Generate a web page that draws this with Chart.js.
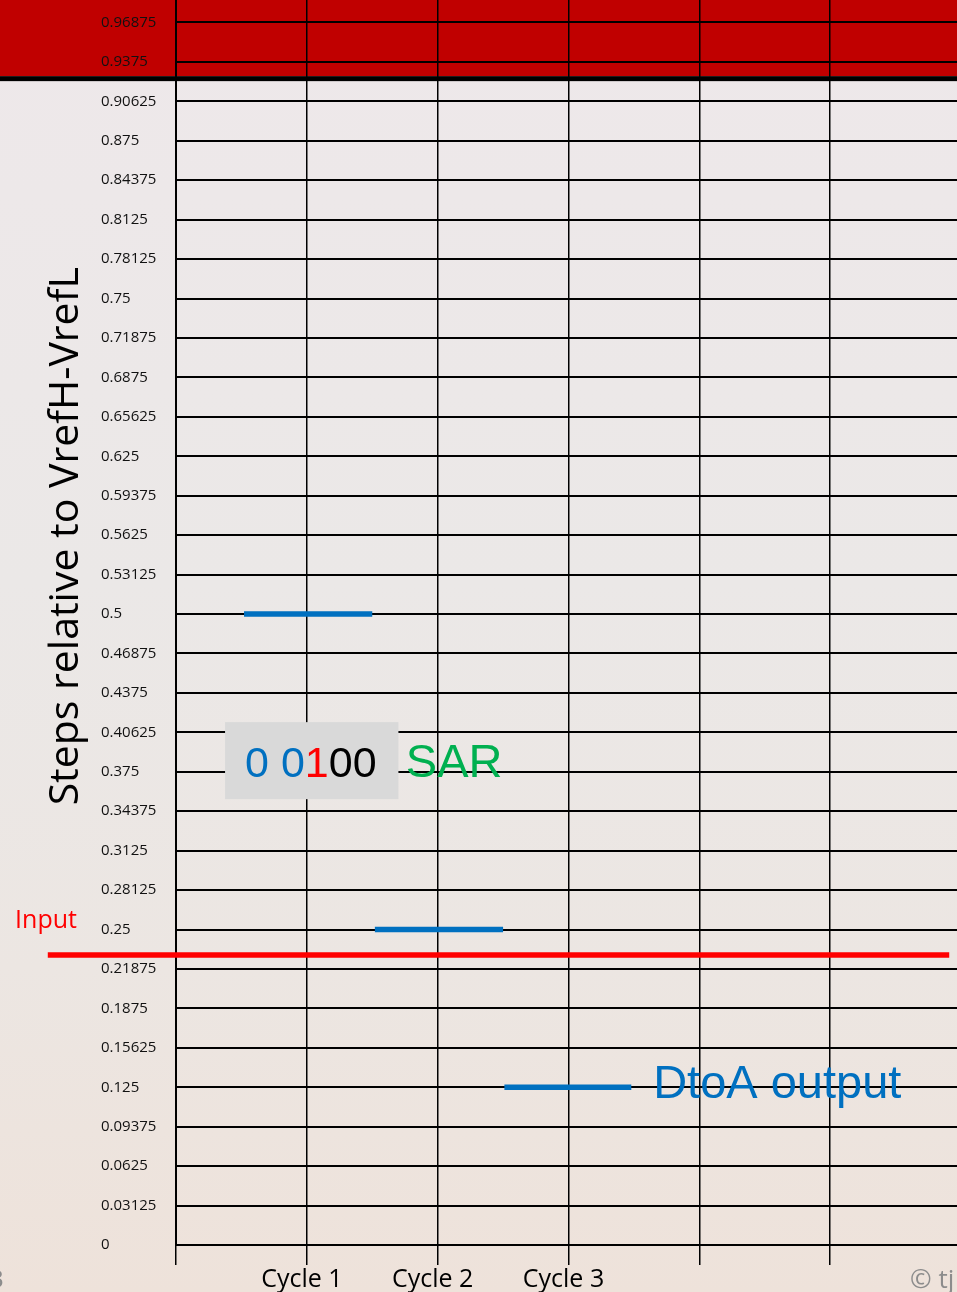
<!DOCTYPE html>
<html>
<head>
<meta charset="utf-8">
<title>SAR DtoA steps</title>
<script src="https://cdn.jsdelivr.net/npm/chart.js@4.4.1/dist/chart.umd.min.js"></script>
<style>
  html, body { margin: 0; padding: 0; width: 957px; height: 1292px; overflow: hidden; }
  body {
    position: relative;
    background: linear-gradient(180deg, #eee8ea 0%, #ebe8e7 45%, #ece6e2 75%, #eee2da 100%);
  }
  #chart { position: absolute; left: 0; top: -29px; }
</style>
</head>
<body>
<canvas id="chart" width="961" height="1321"></canvas>
<script>
// y ticks: steps of 1/32 of VrefH-VrefL
const yTickValues = [0, 0.03125, 0.0625, 0.09375, 0.125, 0.15625, 0.1875, 0.21875,
    0.25, 0.28125, 0.3125, 0.34375, 0.375, 0.40625, 0.4375, 0.46875,
    0.5, 0.53125, 0.5625, 0.59375, 0.625, 0.65625, 0.6875, 0.71875,
    0.75, 0.78125, 0.8125, 0.84375, 0.875, 0.90625, 0.9375, 0.96875];
const xTickValues = [0, 1, 2, 3, 4, 5, 6];
const xTickLabels = ["", "Cycle 1", "Cycle 2", "Cycle 3", "", "", ""];

// DtoA output per cycle
const dacLevels = [0.5, 0.25, 0.125];
const dacStarts = [0.52, 1.52, 2.51];
const dacEnds = [1.5, 2.5, 3.48];

// analog input
const inputLevel = 0.2297;
const inputSpan = [-0.98, 5.91];

const sarCode = [["0 0", "#0070C0"], ["1", "#FF0000"], ["00", "#000000"]];

const dacData = [];
dacLevels.forEach((lvl, i) => {
    dacData.push({ x: dacStarts[i], y: lvl }, { x: dacEnds[i], y: lvl }, { x: dacEnds[i], y: null });
});
const inputData = inputSpan.map(x => ({ x, y: inputLevel }));

const slideDecor = {
    id: "slideDecor",
    beforeDraw(chart) {
        const ctx = chart.ctx;
        const edge = chart.scales.y.getPixelForValue(0.9262);
        ctx.save();
        ctx.fillStyle = "#C00000";
        ctx.fillRect(0, 0, chart.width, edge);
        ctx.fillStyle = "#000";
        ctx.fillRect(0, edge, chart.width, 5);
        ctx.restore();
    },
    afterDatasetsDraw(chart) {
        const ctx = chart.ctx;
        const sx = v => chart.scales.x.getPixelForValue(v);
        const sy = v => chart.scales.y.getPixelForValue(v);
        ctx.save();

        // register box
        ctx.fillStyle = "#D9D9D9";
        ctx.fillRect(sx(0.375), sy(0.4143), sx(1.70) - sx(0.375), sy(0.3533) - sy(0.4143));
        ctx.font = "43px 'Liberation Sans', Arial, sans-serif";
        ctx.textBaseline = "alphabetic";
        let x = sx(0.528);
        const base = sy(0.3707);
        sarCode.forEach(([txt, col]) => {
            ctx.fillStyle = col;
            ctx.fillText(txt, x, base);
            x += ctx.measureText(txt).width;
        });
        ctx.fillStyle = "#00B050";
        ctx.font = "47px 'Liberation Sans', Arial, sans-serif";
        ctx.fillText("SAR", sx(1.757), base);

        ctx.fillStyle = "#0070C0";
        ctx.font = "47px 'Liberation Sans', Arial, sans-serif";
        ctx.fillText("DtoA output", sx(3.647), sy(0.1164));

        ctx.fillStyle = "#FF0000";
        ctx.font = "25px 'Open Sans', sans-serif";
        ctx.fillText("Input", sx(-1.23), sy(0.2511));

        // axis title
        ctx.save();
        ctx.translate(78, sy(0.5616));
        ctx.rotate(-Math.PI / 2);
        ctx.textAlign = "center";
        ctx.fillStyle = "#000";
        ctx.font = "41px 'Open Sans', sans-serif";
        ctx.fillText("Steps relative to VrefH-VrefL", 0, 0);
        ctx.restore();

        // slide footer bits
        ctx.fillStyle = "#8c8c8c";
        ctx.font = "26px 'Open Sans', sans-serif";
        ctx.fillText("3", -11, chart.height - 4);
        ctx.fillText("\u00A9 tj", 910, chart.height - 4);
        ctx.restore();
    }
};

new Chart(document.getElementById("chart"), {
    type: "line",
    data: {
        datasets: [
            {
                label: "DtoA output",
                data: dacData,
                borderColor: "#0070C0",
                borderWidth: 5.5,
                borderCapStyle: "butt",
                pointRadius: 0,
                spanGaps: false
            },
            {
                label: "Input",
                data: inputData,
                borderColor: "#FF0000",
                borderWidth: 5.5,
                borderCapStyle: "butt",
                pointRadius: 0,
                clip: false
            }
        ]
    },
    options: {
        responsive: false,
        animation: false,
        layout: { padding: { left: 101, top: 12, right: 0, bottom: 0 } },
        plugins: { legend: { display: false }, tooltip: { enabled: false } },
        scales: {
            x: {
                type: "linear",
                min: 0,
                max: 6,
                afterBuildTicks: s => { s.ticks = xTickValues.map(v => ({ value: v })); },
                afterFit: s => { s.height = 47; },
                ticks: {
                    autoSkip: false,
                    maxRotation: 0,
                    padding: 0,
                    labelOffset: -5,
                    color: "#000",
                    font: { family: "'Open Sans', sans-serif", size: 25 },
                    callback: (v, i) => xTickLabels[i]
                },
                grid: { color: "#000", lineWidth: 1.5, tickLength: 20, tickColor: "#000" },
                border: { display: true, color: "#000", width: 2 }
            },
            y: {
                type: "linear",
                min: 0,
                max: 1,
                afterBuildTicks: s => { s.ticks = yTickValues.map(v => ({ value: v })); },
                afterFit: s => { s.width = 75; },
                ticks: {
                    autoSkip: false,
                    crossAlign: "far",
                    color: "#111",
                    font: { family: "'Open Sans', sans-serif", size: 15 },
                    callback: v => String(v)
                },
                grid: { color: "#000", lineWidth: 2, drawTicks: false },
                border: { display: true, color: "#000", width: 2 }
            }
        }
    },
    plugins: [slideDecor]
});
</script>
</body>
</html>
